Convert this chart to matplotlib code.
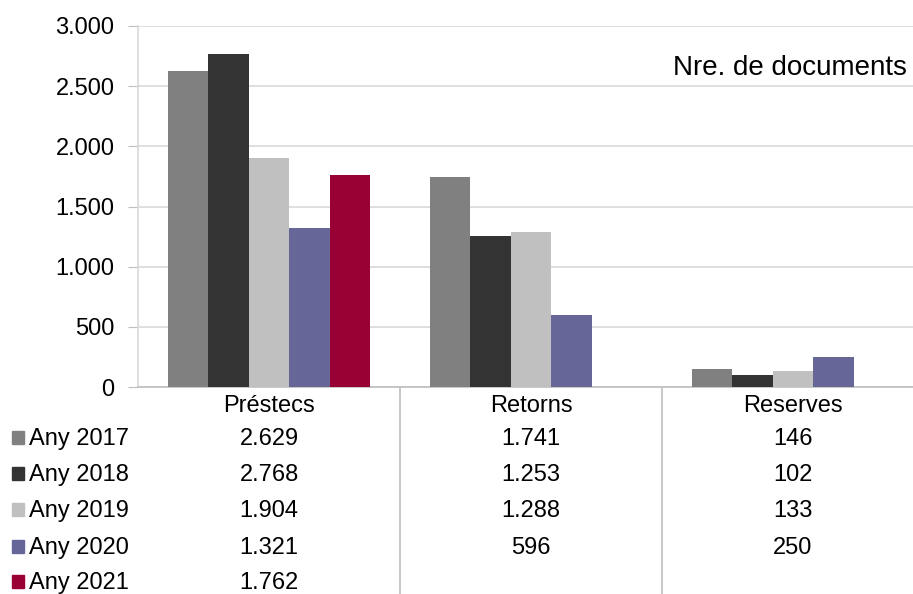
import matplotlib.pyplot as plt
import matplotlib.transforms as mtransforms
from matplotlib.ticker import FuncFormatter
import numpy as np

plt.rcParams['font.family'] = ['Liberation Sans', 'DejaVu Sans']

categories = ["Préstecs", "Retorns", "Reserves"]
series = ["Any 2017", "Any 2018", "Any 2019", "Any 2020", "Any 2021"]
v2017 = [2629, 1741, 146]
v2018 = [2768, 1253, 102]
v2019 = [1904, 1288, 133]
v2020 = [1321, 596, 250]
v2021 = [1762, None, None]
colors = ["#808080", "#333333", "#C0C0C0", "#666699", "#990033"]

values = [v2017, v2018, v2019, v2020, v2021]


def fmt(v):
    if v is None:
        return ""
    return f"{int(v):,}".replace(",", ".")


fig = plt.figure(figsize=(9.13, 5.94), dpi=100)
ax = fig.add_axes([138 / 913, (594 - 387) / 594, 786 / 913, (387 - 26) / 594])

x = np.arange(len(categories))
w = 0.1546
for j, (name, vals) in enumerate(zip(series, values)):
    h = [np.nan if v is None else v for v in vals]
    ax.bar(x + (j - 2) * w, h, width=w, color=colors[j], zorder=3)

ax.set_xlim(-0.5, 2.5)
ax.set_ylim(0, 3000)
ax.set_yticks(range(0, 3001, 500))
ax.yaxis.set_major_formatter(FuncFormatter(lambda v, p: fmt(v)))
ax.yaxis.grid(True, color="#D9D9D9", linewidth=1.2, zorder=0)
ax.set_xticks([])
ax.tick_params(axis="y", length=7, color="#BFBFBF", labelsize=17, pad=10)
for s in ["top", "right"]:
    ax.spines[s].set_visible(False)
ax.spines["left"].set_color("#D9D9D9")
ax.spines["bottom"].set_color("#BFBFBF")
ax.spines["bottom"].set_linewidth(1.2)
ax.spines["left"].set_linewidth(1.2)

ax.text(673 / 913, 1 - 68 / 594, "Nre. de documents", transform=fig.transFigure,
        fontsize=20, ha="left", va="center")

# data table below the axes
tr = mtransforms.blended_transform_factory(ax.transData, fig.transFigure)
for i, c in enumerate(categories):
    ax.text(i, 1 - 406 / 594, c, transform=tr, ha="center", va="center",
            fontsize=17, clip_on=False)
row_y = [439, 475, 511, 548, 583]
sq_y = [437, 473, 509, 546, 581]
for j, (name, vals) in enumerate(zip(series, values)):
    yf = 1 - row_y[j] / 594
    sy = 1 - sq_y[j] / 594
    fig.patches.append(plt.Rectangle((12 / 913, sy - 6.5 / 594), 12 / 913, 13 / 594,
                                     transform=fig.transFigure, color=colors[j]))
    fig.text(29 / 913, yf, name, fontsize=17, ha="left", va="center")
    for i, v in enumerate(vals):
        ax.text(i, yf, fmt(v), transform=tr, ha="center", va="center",
                fontsize=17, clip_on=False)

for xd in [0.5, 1.5]:
    ax.plot([xd, xd], [1 - 387 / 594, 0], transform=tr, color="#BFBFBF",
            linewidth=1.2, clip_on=False)

fig.savefig("out.png", dpi=100)
